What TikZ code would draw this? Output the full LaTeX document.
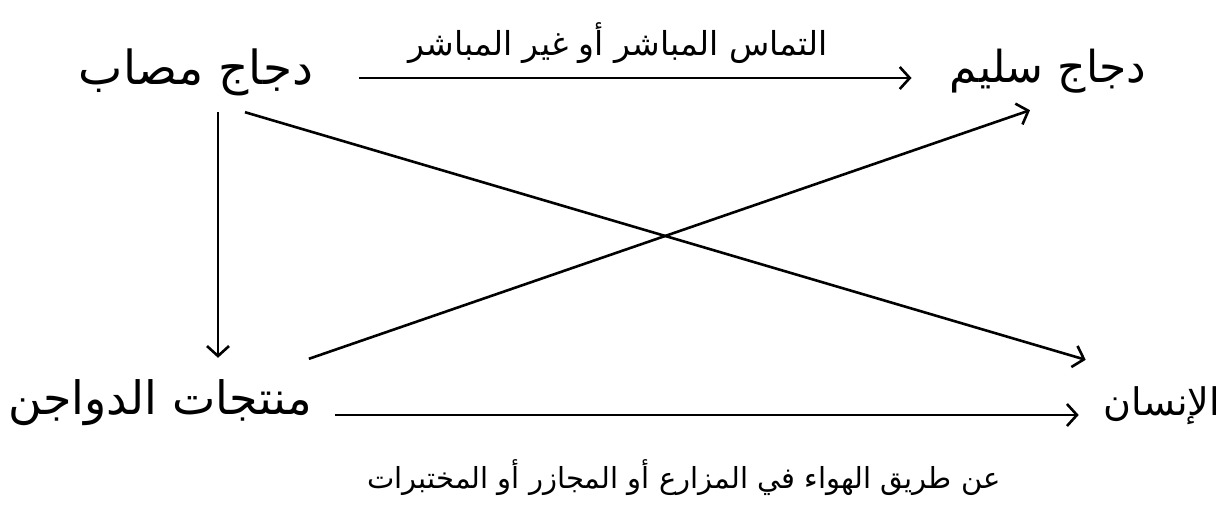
\documentclass[tikz,border=0pt]{standalone}
\usepackage{fontspec}
\usetikzlibrary{arrows.meta}
\TeXXeTstate=1
\newfontfamily\arabicfont[Script=Arabic]{DejaVu Sans}
\begin{document}
\begin{tikzpicture}[x=1pt,y=-1pt,
  conn/.style={line width=2.6pt,-{Straight Barb[length=10pt,width=22pt]}},
  term/.style={font=\arabicfont, inner sep=0pt, minimum height=54pt},
  edgelbl/.style={font=\arabicfont, inner sep=0pt}]
\useasboundingbox[fill=white] (0,0) rectangle (1225,516);
\node[term, minimum width=232pt] (sick) at (196,72) {\fontsize{47}{54}\selectfont\beginR دجاج مصاب\endR};
\node[term, minimum width=190pt] (healthy) at (1048,71) {\fontsize{44}{52}\selectfont\beginR دجاج سليم\endR};
\node[term, minimum width=300pt] (prod) at (160,403) {\fontsize{46}{54}\selectfont\beginR منتجات الدواجن\endR};
\node[term, minimum width=113pt] (human) at (1162,406) {\fontsize{38}{46}\selectfont\beginR الإنسان\endR};
\node[edgelbl] (toplbl) at (618,43) {\fontsize{33}{40}\selectfont\beginR التماس المباشر أو غير المباشر\endR};
\node[edgelbl] (botlbl) at (684,478) {\fontsize{29}{36}\selectfont\beginR عن طريق الهواء في المزارع أو المجازر أو المختبرات\endR};
% connectors
\draw[conn] ([xshift=46pt,yshift=-6pt]sick.east) -- ([xshift=-38pt,yshift=-7pt]healthy.west);
\draw[conn] ([xshift=22pt,yshift=-13pt]sick.south) -- ([xshift=58pt,yshift=18pt]prod.north);
\draw[conn] ([xshift=49pt,yshift=-13pt]sick.south) -- ([xshift=-18pt,yshift=19pt]human.north west);
\draw[conn] ([xshift=-3pt,yshift=17pt]prod.north east) -- ([xshift=-18pt,yshift=-12pt]healthy.south);
\draw[conn] ([xshift=23pt,yshift=-12pt]prod.east) -- ([xshift=-25pt,yshift=-9pt]human.west);
\end{tikzpicture}
\end{document}
